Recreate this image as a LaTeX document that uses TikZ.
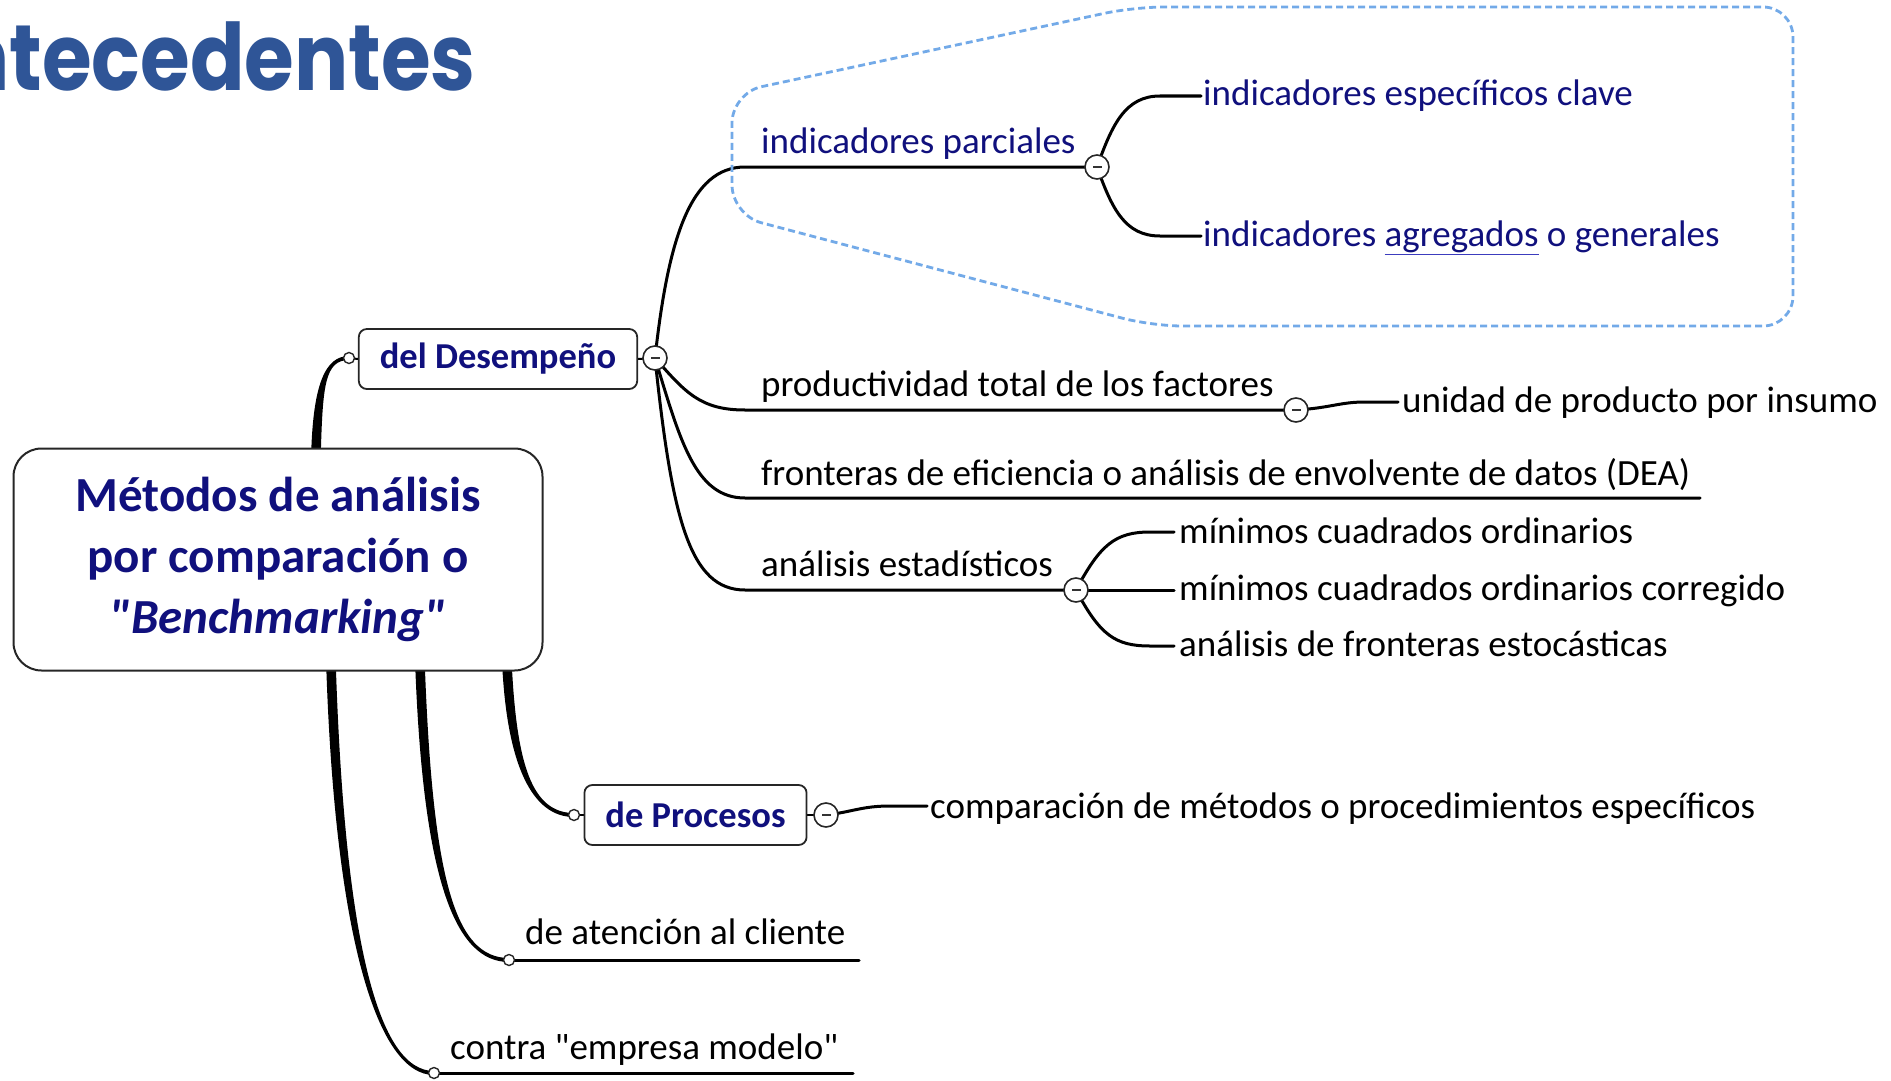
\documentclass[tikz,border=0pt]{standalone}
\usepackage{fontspec}
\setmainfont{Carlito}
\newfontfamily\qfont{Carlito}[Ligatures=ResetAll]
\newfontfamily\titlefont{Poppins}
\newcommand\sq{{\qfont\char34}}
\usetikzlibrary{calc,backgrounds}
\definecolor{navy}{RGB}{16,16,125}
\definecolor{titleblue}{RGB}{47,85,151}
\definecolor{cloudblue}{RGB}{115,170,232}
\definecolor{linkblue}{RGB}{60,60,190}
\newcommand\taperpath[6]{%
  \fill[black] ($(#1)+(-#5,0)$) .. controls ($(#2)+(-#5,0)$) and ($(#3)+(0,#6)$) .. ($(#4)+(0,#6)$)
    -- ($(#4)-(0,#6)$) .. controls ($(#3)-(0,#6)$) and ($(#2)+(#5,0)$) .. ($(#1)+(#5,0)$) -- cycle;}
\begin{document}
\begin{tikzpicture}[x=1pt,y=-1pt,
  txt/.style={anchor=base west, inner sep=0pt, font=\fontsize{37}{44}\selectfont},
  navytxt/.style={txt, text=navy},
  minusc/.style={circle, draw=black!85, line width=1.6, fill=white, minimum size=24, inner sep=0pt,
    path picture={\fill[black!80] ($(path picture bounding box.center)+(-4.5,-1.4)$) rectangle ($(path picture bounding box.center)+(4.5,1.4)$);}},
  dotc/.style={circle, draw=black!85, line width=1.4, fill=white, minimum size=11, inner sep=0pt},
  conn/.style={line width=3, line cap=round},
  subbox/.style={draw=black!85, line width=1.8, rounded corners=8, fill=white, inner xsep=21, inner ysep=0pt,
    minimum height=60, font=\fontsize{36.5}{44}\selectfont\bfseries, text=navy},
  cloud/.style={draw=cloudblue, line width=2.8, dash pattern=on 7pt off 4pt, rounded corners=30}
]
\useasboundingbox (0,0) rectangle (1891,1081);

% title
\node[anchor=base east, inner sep=0pt, text=titleblue, font=\titlefont\bfseries\fontsize{80.5}{90}\selectfont] (title) at (476,90) {\scalebox{1}[1.155]{ntecedentes}};

% dashed group boundary
\draw[cloud] (732,93) -- (1134,7) -- (1793,7) -- (1793,326) -- (1152,326) -- (732,215) -- cycle;

% root
\node[draw=black!85, line width=2, rounded corners=28, minimum width=529, minimum height=222, fill=white,
  align=center, text=navy, font=\fontsize{49}{61}\selectfont\bfseries] (root) at (278,559.5)
  {Métodos de análisis\\por comparación o\\{\itshape \sq Benchmarking\sq}};

% first level boxes
\node[subbox] (dd) at (498,359) {del Desempeño};
\node[subbox] (dp) at (695.5,815) {de Procesos};

% small circles and minus circles
\node[dotc] (d1) at (349,358) {};
\node[dotc] (dP) at (574,815) {};
\node[dotc] (dA) at (509,960) {};
\node[dotc] (dC) at (434,1073) {};
\node[minusc] (m1) at (655,358) {};
\node[minusc] (mP) at (1097,167) {};
\node[minusc] (mQ) at (1296,410) {};
\node[minusc] (mS) at (1076,590) {};
\node[minusc] (mR) at (826,815) {};

% texts
\node[navytxt] (t1) at (761,153) {indicadores parciales};
\node[navytxt] (t2) at (1203,105) {indicadores específicos clave};
\node[navytxt] (t3) at (1203,246) {indicadores {\color{linkblue}\underline{\color{navy}agregados}} o generales};
\node[txt] (t4) at (761,396) {productividad total de los factores};
\node[txt] (t5) at (1402,412) {unidad de producto por insumo};
\node[txt] (t6) at (761,485) {fronteras de eficiencia o análisis de envolvente de datos (DEA)};
\node[txt] (t7) at (761,576) {análisis estadísticos};
\node[txt] (t8) at (1179,543) {mínimos cuadrados ordinarios};
\node[txt] (t9) at (1179,600) {mínimos cuadrados ordinarios corregido};
\node[txt] (t10) at (1179,656) {análisis de fronteras estocásticas};
\node[txt] (t11) at (930,818) {comparación de métodos o procedimientos específicos};
\node[txt] (t12) at (525,944) {de atención al cliente};
\node[txt] (t13) at (450,1059) {contra \sq empresa modelo\sq};

% connector end points
\coordinate (e1) at (1201,96);
\coordinate (e2) at (1201,236);
\coordinate (fEnd) at (1700,498);
\coordinate (q1) at (1398,402);
\coordinate (s1) at (1174,532);
\coordinate (s2) at (1174,590);
\coordinate (s3) at (1174,646);
\coordinate (r1) at (927,806);
\coordinate (aEnd) at (859,960);
\coordinate (cEnd) at (853,1073);

% taper start points
\coordinate (rTop) at (316,453);
\coordinate (rB1) at (507,665);
\coordinate (rB2) at (420,665);
\coordinate (rB3) at (331,665);

\begin{pgfonlayer}{background}
  % thick tapered connectors from root
  \taperpath{rTop}{318,385}{325,358}{d1}{4.8}{-2}
  \taperpath{rB1}{512,765}{532,815}{dP}{4.8}{2}
  \taperpath{rB2}{428,880}{455,960}{dA}{4.8}{2}
  \taperpath{rB3}{340,940}{378,1073}{dC}{4.8}{2}
  % stubs to boxes
  \draw[line width=2] (d1.center) -- (dd.west);
  \draw[line width=2] (dP.center) -- (dp.west);
  \draw[line width=2] (dd.east) -- (m1.center);
  \draw[line width=2] (dp.east) -- (mR.center);
  % second level
  \draw[conn] (m1.center) .. controls (668,240) and (690,167) .. (745,167) -- (mP.center);
  \draw[conn] (m1.center) .. controls (685,392) and (700,410) .. (745,410) -- (mQ.center);
  \draw[conn] (m1.center) .. controls (680,440) and (695,498) .. (745,498) -- (fEnd);
  \draw[conn] (m1.center) .. controls (672,520) and (690,590) .. (745,590) -- (mS.center);
  % third level
  \draw[conn] (mP.center) .. controls (1112,125) and (1125,96) .. (1160,96) -- (e1);
  \draw[conn] (mP.center) .. controls (1112,209) and (1125,236) .. (1160,236) -- (e2);
  \draw[conn] (mQ.center) .. controls (1330,408) and (1340,402) .. (1365,402) -- (q1);
  \draw[conn] (mS.center) .. controls (1100,545) and (1115,532) .. (1150,532) -- (s1);
  \draw[conn] (mS.center) -- (s2);
  \draw[conn] (mS.center) .. controls (1100,635) and (1115,646) .. (1150,646) -- (s3);
  \draw[conn] (mR.center) .. controls (852,812) and (862,806) .. (890,806) -- (r1);
  \draw[conn] (dA.center) -- (aEnd);
  \draw[conn] (dC.center) -- (cEnd);
\end{pgfonlayer}
\end{tikzpicture}
\end{document}
